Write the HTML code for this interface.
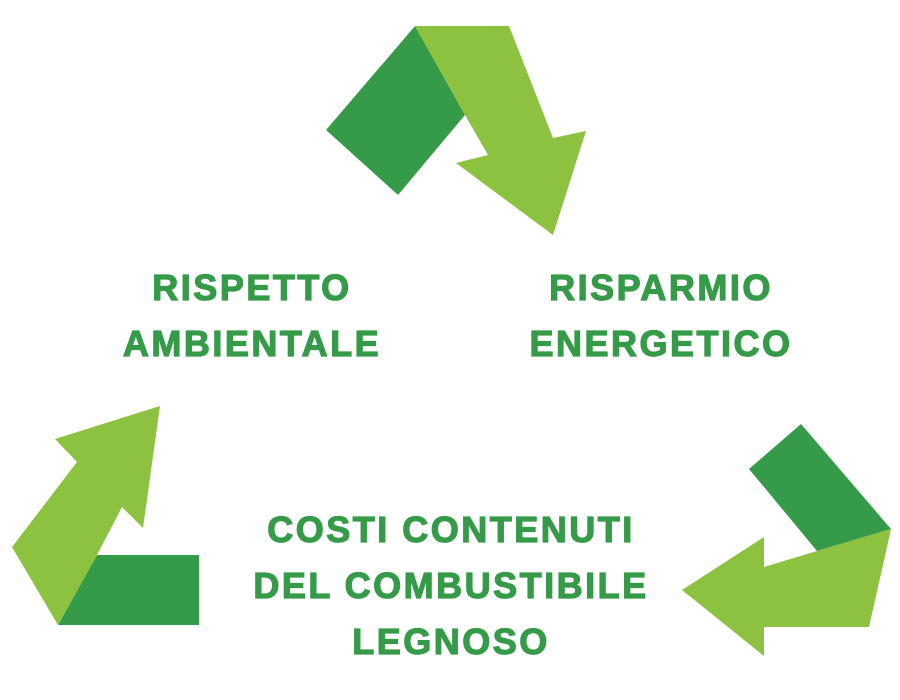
<!DOCTYPE html>
<html><head><style>
body{margin:0;background:#fff;width:900px;height:700px;overflow:hidden;position:relative}
.t{position:absolute;font-family:"Liberation Sans",sans-serif;font-weight:bold;color:#359b48;-webkit-text-stroke:1.2px #359b48;font-size:36px;letter-spacing:2.5px;text-align:center;line-height:56px;transform:translateX(-50%);white-space:nowrap}
</style></head><body>
<svg width="900" height="700" style="position:absolute;left:0;top:0">
<g fill="#359b48">
<polygon points="415,26 326,130 398,195 465,115"/>
<polygon points="97,555 199,555 199,625 58,625"/>
<polygon points="801,424 749,469 817,551 891,529"/>
</g>
<g fill="#8dc140">
<polygon points="415,26 509,26 553,138 586,131 553,235 456,163 488,155 465,115"/>
<polygon points="160,406 55,439 77,462 12,547 58,625 97,555 122,507 143,528"/>
<polygon points="891,529 869,627 764,627 764,656 682,590 764,537 764,567 817,551"/>
</g>
</svg>
<div class="t" style="left:252px;top:260px">RISPETTO<br>AMBIENTALE</div>
<div class="t" style="left:661px;top:260px">RISPARMIO<br>ENERGETICO</div>
<div class="t" style="left:451px;top:502px">COSTI CONTENUTI<br>DEL COMBUSTIBILE<br>LEGNOSO</div>
</body></html>
